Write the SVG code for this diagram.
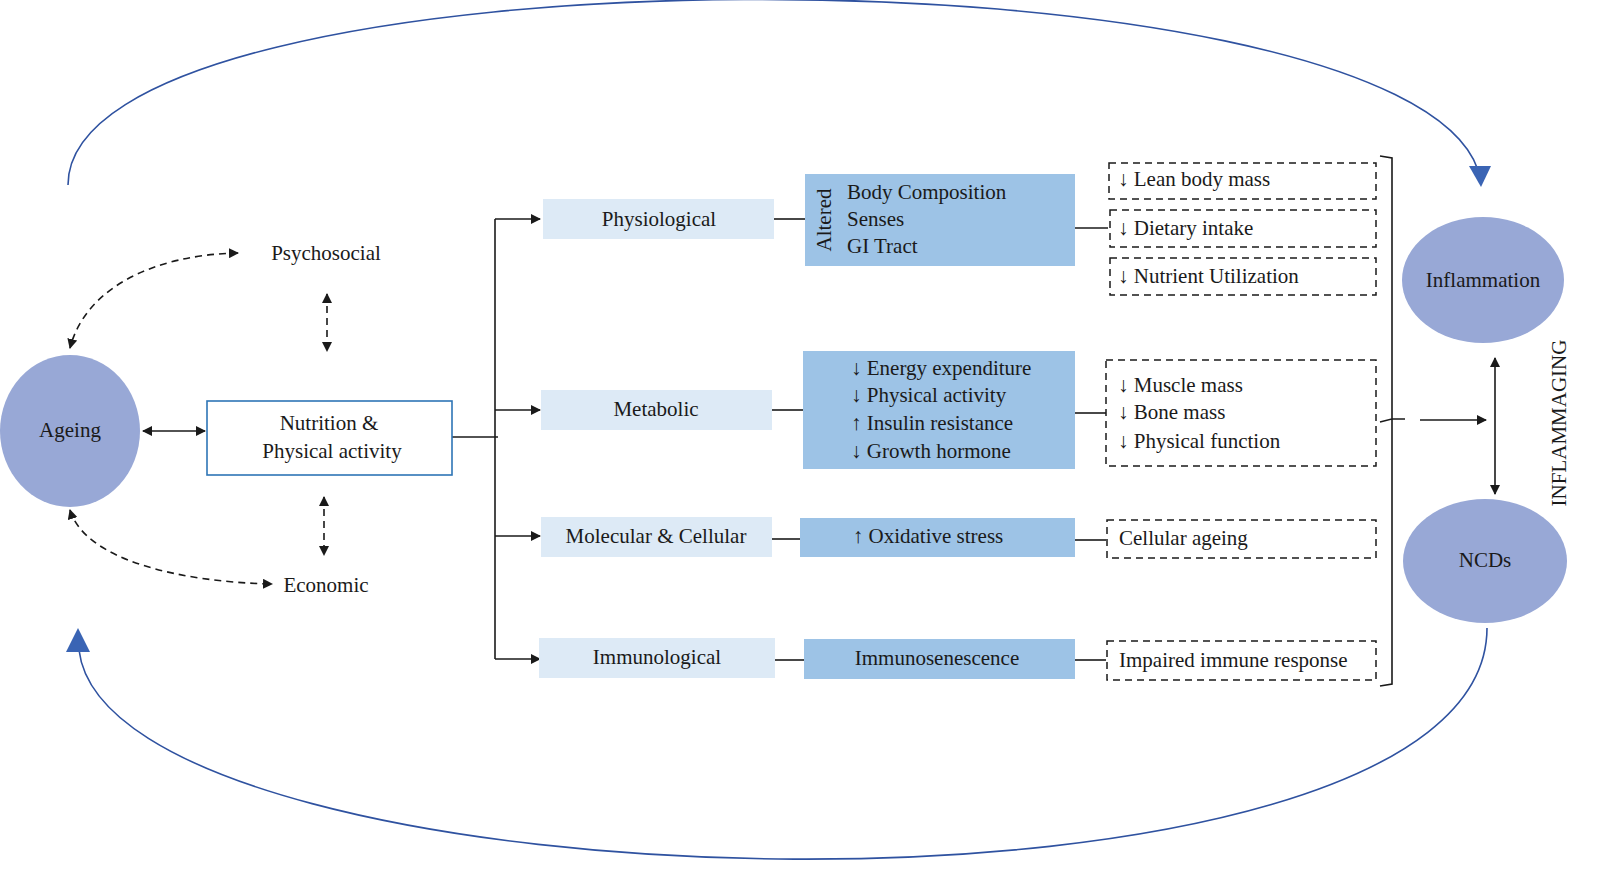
<svg xmlns="http://www.w3.org/2000/svg" width="1609" height="881" viewBox="0 0 1609 881">
<defs>
<marker id="ah" viewBox="0 0 10 10" refX="9" refY="5" markerWidth="10" markerHeight="10" markerUnits="userSpaceOnUse" orient="auto-start-reverse"><path d="M0,0 L10,5 L0,10 z" fill="#1a1a1a"/></marker>
</defs>
<style>
text{font-family:"Liberation Serif","Times New Roman",serif;font-size:21px;fill:#1a1a1a}
.c{text-anchor:middle}
.lb{fill:#ddeaf6}
.mb{fill:#9dc3e6}
.el{fill:#98a8d6}
.ln{stroke:#1a1a1a;stroke-width:1.6;fill:none}
.ds{stroke:#1a1a1a;stroke-width:1.6;fill:none;stroke-dasharray:7,5}
.db{stroke:#1a1a1a;stroke-width:1.5;fill:none;stroke-dasharray:7,5}
.arc{stroke:#2f52a0;stroke-width:1.6;fill:none}
</style>
<g id="connectors">
<path class="arc" d="M68,185 C68,-60 1400,-60 1478,170"/>
<path d="M1469,166 L1491,166 L1481,187 z" fill="#3a64b4"/>
<path class="arc" d="M1487,628 C1487,950 110,915 79,650"/>
<path d="M66,652 L90,652 L78,628 z" fill="#3a64b4"/>
<path class="ds" d="M238,253 C150,255 85,290 70,348" marker-start="url(#ah)" marker-end="url(#ah)"/>
<path class="ds" d="M70,510 C85,560 180,582 272,584" marker-start="url(#ah)" marker-end="url(#ah)"/>
<path class="ds" d="M327,294 L327,351" marker-start="url(#ah)" marker-end="url(#ah)"/>
<path class="ds" d="M324,497 L324,555" marker-start="url(#ah)" marker-end="url(#ah)"/>
<path class="ln" d="M143,431 L205,431" marker-start="url(#ah)" marker-end="url(#ah)"/>
<path class="ln" d="M452,437 L498,437"/>
<path class="ln" d="M495,219 L495,659"/>
<path class="ln" d="M495,219 L540,219" marker-end="url(#ah)"/>
<path class="ln" d="M495,410 L540,410" marker-end="url(#ah)"/>
<path class="ln" d="M495,536 L540,536" marker-end="url(#ah)"/>
<path class="ln" d="M495,659 L540,659" marker-end="url(#ah)"/>
<path class="ln" d="M774,219 L805,219"/>
<path class="ln" d="M772,410 L803,410"/>
<path class="ln" d="M772,539 L800,539"/>
<path class="ln" d="M775,660 L804,660"/>
<path class="ln" d="M1075,228 L1108,228"/>
<path class="ln" d="M1075,413 L1106,413"/>
<path class="ln" d="M1075,540 L1106,540"/>
<path class="ln" d="M1075,660 L1106,660"/>
<path class="ln" d="M1380,156 L1392,158 L1392,419 L1380,422 M1392,419 L1392,684 L1380,686 M1392,419 L1405,419"/>
<path class="ln" d="M1420,420 L1486,420" marker-end="url(#ah)"/>
<path class="ln" d="M1495,358 L1495,494" marker-start="url(#ah)" marker-end="url(#ah)"/>
</g>
<g id="ageing"><ellipse class="el" cx="70" cy="431" rx="70" ry="76"/><text class="c" x="70" y="437">Ageing</text></g>
<g id="psychosocial"><text class="c" x="326" y="260">Psychosocial</text></g>
<g id="economic"><text class="c" x="326" y="592">Economic</text></g>
<g id="nutrition"><rect x="207" y="401" width="245" height="74" fill="#fff" stroke="#2e75b6" stroke-width="1.6"/><text class="c" x="329" y="430">Nutrition &amp;</text><text class="c" x="332" y="458">Physical activity</text></g>
<g id="physiological"><rect class="lb" x="543" y="199" width="231" height="40"/><text class="c" x="659" y="226">Physiological</text></g>
<g id="metabolic"><rect class="lb" x="541" y="390" width="231" height="40"/><text class="c" x="656" y="416">Metabolic</text></g>
<g id="molecular"><rect class="lb" x="541" y="517" width="231" height="40"/><text class="c" x="656" y="543">Molecular &amp; Cellular</text></g>
<g id="immunological"><rect class="lb" x="539" y="638" width="236" height="40"/><text class="c" x="657" y="664">Immunological</text></g>
<g id="altered"><rect class="mb" x="805" y="174" width="270" height="92"/><text class="c" transform="translate(831,220) rotate(-90)">Altered</text><text x="847" y="199">Body Composition</text><text x="847" y="226">Senses</text><text x="847" y="253">GI Tract</text></g>
<g id="energy"><rect class="mb" x="803" y="351" width="272" height="118"/><text x="851" y="375">↓ Energy expenditure</text><text x="851" y="402">↓ Physical activity</text><text x="851" y="430">↑ Insulin resistance</text><text x="851" y="458">↓ Growth hormone</text></g>
<g id="oxidative"><rect class="mb" x="800" y="518" width="275" height="39"/><text class="c" x="928" y="543">↑ Oxidative stress</text></g>
<g id="immunosenescence"><rect class="mb" x="804" y="639" width="271" height="40"/><text class="c" x="937" y="665">Immunosenescence</text></g>
<g id="lean"><rect class="db" x="1109" y="163" width="267" height="36"/><text x="1118" y="186">↓ Lean body mass</text></g>
<g id="dietary"><rect class="db" x="1110" y="210" width="266" height="37"/><text x="1118" y="235">↓ Dietary intake</text></g>
<g id="nutrient"><rect class="db" x="1110" y="258" width="266" height="37"/><text x="1118" y="283">↓ Nutrient Utilization</text></g>
<g id="muscle"><rect class="db" x="1106" y="360" width="270" height="106"/><text x="1118" y="392">↓ Muscle mass</text><text x="1118" y="419">↓ Bone mass</text><text x="1118" y="448">↓ Physical function</text></g>
<g id="cellular"><rect class="db" x="1107" y="520" width="269" height="38"/><text x="1119" y="545">Cellular ageing</text></g>
<g id="impaired"><rect class="db" x="1107" y="641" width="269" height="39"/><text x="1119" y="667">Impaired immune response</text></g>
<g id="inflammation"><ellipse class="el" cx="1483" cy="280" rx="81" ry="63"/><text class="c" x="1483" y="287">Inflammation</text></g>
<g id="ncds"><ellipse class="el" cx="1485" cy="561" rx="82" ry="62"/><text class="c" x="1485" y="567">NCDs</text></g>
<g id="inflammaging"><text class="c" transform="translate(1566,423) rotate(-90)">INFLAMMAGING</text></g>
</svg>
